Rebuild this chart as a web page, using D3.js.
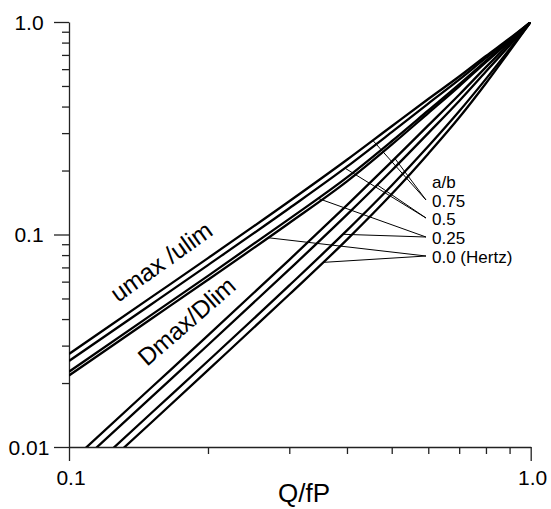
<!DOCTYPE html>
<html>
<head>
<meta charset="utf-8">
<script src="https://cdn.jsdelivr.net/npm/d3@7"></script>
<style>
  body { margin: 0; background: #fff; }
  svg { display: block; font-family: "Liberation Sans", Arial, sans-serif; }
</style>
</head>
<body>
<svg id="chart"></svg>
<script>
var width = 551,
    height = 509,
    margin = {top: 22, right: 20.3, bottom: 62, left: 69};

// Q/fP sample points
var qValues = [0.1, 0.15, 0.2, 0.3, 0.4, 0.5, 0.6, 0.7, 0.8, 0.9, 1.0];
var ratioLabels = ["0.75", "0.5", "0.25", "0.0 (Hertz)"];

// umax/ulim, one list per a/b (0.75, 0.5, 0.25, 0.0)
var uRatio075 = [0.0274, 0.0503, 0.0774, 0.1434, 0.2249, 0.3233, 0.4342, 0.5540, 0.6918, 0.8363, 1.0];
var uRatio050 = [0.0254, 0.0466, 0.0718, 0.1329, 0.2085, 0.3031, 0.4133, 0.5354, 0.6773, 0.8281, 1.0];
var uRatio025 = [0.0226, 0.0415, 0.0639, 0.1184, 0.1856, 0.2747, 0.3833, 0.5082, 0.6556, 0.8157, 1.0];
var uRatio000 = [0.0217, 0.0398, 0.0612, 0.1133, 0.1778, 0.2647, 0.3726, 0.4983, 0.6477, 0.8111, 1.0];

// Dmax/Dlim, one list per a/b
var dRatio075 = [0.00838, 0.01885, 0.0335, 0.0760, 0.1376, 0.2203, 0.3262, 0.4548, 0.6135, 0.7939, 1.0];
var dRatio050 = [0.00755, 0.0170, 0.0302, 0.0685, 0.1240, 0.2000, 0.3000, 0.4250, 0.5850, 0.7750, 1.0];
var dRatio025 = [0.00635, 0.0143, 0.0254, 0.0576, 0.1045, 0.1700, 0.2600, 0.3800, 0.5400, 0.7450, 1.0];
var dRatio000 = [0.00575, 0.0129, 0.0230, 0.0522, 0.0946, 0.1550, 0.2400, 0.3550, 0.5150, 0.7300, 1.0];

// where each leader line touches its curves (Q/fP), u then D
var leaderU = [0.455, 0.396, 0.346, 0.270];
var leaderD = [0.508, 0.465, 0.392, 0.355];

var xTicks = [0.1, 0.2, 0.3, 0.4, 0.5, 0.6, 0.7, 0.8, 0.9, 1.0];
var yTicks = [0.01, 0.02, 0.03, 0.04, 0.05, 0.06, 0.07, 0.08, 0.09,
              0.1, 0.2, 0.3, 0.4, 0.5, 0.6, 0.7, 0.8, 0.9, 1.0];
var xLabels = [[0.1, "0.1"], [1.0, "1.0"]];
var yLabels = [[0.01, "0.01"], [0.1, "0.1"], [1.0, "1.0"]];

var svg = d3.select("#chart").attr("width", width).attr("height", height);

var x = d3.scaleLog().domain([0.1, 1]).range([margin.left, width - margin.right]),
    y = d3.scaleLog().domain([0.01, 1]).range([height - margin.bottom, margin.top]);

var isMajor = function(v) {
    return Math.abs(Math.log10(v) - Math.round(Math.log10(v))) < 1e-6;
};

svg.append("defs").append("clipPath").attr("id", "plot")
    .append("rect")
    .attr("x", margin.left).attr("y", margin.top)
    .attr("width", x(1) - x(0.1)).attr("height", y(0.01) - y(1));

// axes
var xAxis = d3.axisBottom(x)
    .tickValues(xTicks)
    .tickFormat("")
    .tickSizeOuter(0);
var yAxis = d3.axisLeft(y)
    .tickValues(yTicks)
    .tickFormat("")
    .tickSizeOuter(0);

var gx = svg.append("g")
    .attr("transform", "translate(0," + y(0.01) + ")")
    .call(xAxis);
gx.selectAll(".tick line").attr("y2", function(d) { return isMajor(d) ? 14 : 7; });

var gy = svg.append("g")
    .attr("transform", "translate(" + x(0.1) + ",0)")
    .call(yAxis);
gy.selectAll(".tick line").attr("x2", function(d) { return isMajor(d) ? -15 : -7; });

svg.selectAll(".domain, .tick line").attr("stroke", "#222").attr("stroke-width", 1.3);

svg.selectAll(".x-label")
    .data(xLabels)
    .enter().append("text")
    .attr("x", function(d) { return x(d[0]) + 2; })
    .attr("y", y(0.01) + 38)
    .attr("text-anchor", "middle")
    .attr("font-size", 21)
    .text(function(d) { return d[1]; });

svg.selectAll(".y-label")
    .data(yLabels)
    .enter().append("text")
    .attr("x", 29)
    .attr("y", function(d) { return y(d[0]) + 7.5; })
    .attr("text-anchor", "middle")
    .attr("font-size", 21)
    .text(function(d) { return d[1]; });

svg.append("text")
    .attr("x", 304)
    .attr("y", 502)
    .attr("text-anchor", "middle")
    .attr("font-size", 26)
    .text("Q/fP");

// curves
var line = d3.line()
    .x(function(d) { return x(d[0]); })
    .y(function(d) { return y(d[1]); })
    .curve(d3.curveMonotoneX);

var uSeries = [uRatio075, uRatio050, uRatio025, uRatio000],
    dSeries = [dRatio075, dRatio050, dRatio025, dRatio000];

var curves = svg.append("g").attr("clip-path", "url(#plot)");
uSeries.concat(dSeries).forEach(function(s) {
    curves.append("path")
        .datum(qValues.map(function(q, i) { return [q, s[i]]; }))
        .attr("fill", "none")
        .attr("stroke", "#000")
        .attr("stroke-width", 2.3)
        .attr("d", line);
});

// value on a curve at a given Q/fP (log-log linear between samples)
function valueAt(series, q) {
    var i = d3.bisectRight(qValues, q) - 1;
    i = Math.max(0, Math.min(i, qValues.length - 2));
    var t = (Math.log(q) - Math.log(qValues[i])) / (Math.log(qValues[i + 1]) - Math.log(qValues[i]));
    return Math.exp(Math.log(series[i]) + t * (Math.log(series[i + 1]) - Math.log(series[i])));
}

// a/b legend with leader lines
var legendX = 432,
    labelY = [201, 219, 238, 257],
    anchorX = 426;

svg.append("text")
    .attr("x", legendX)
    .attr("y", 188)
    .attr("font-size", 17)
    .text("a/b");

ratioLabels.forEach(function(lbl, i) {
    svg.append("text")
        .attr("x", legendX)
        .attr("y", labelY[i] + 6)
        .attr("font-size", 17)
        .text(lbl);
    [[uSeries[i], leaderU[i]], [dSeries[i], leaderD[i]]].forEach(function(p) {
        svg.append("line")
            .attr("x1", anchorX).attr("y1", labelY[i] - 1)
            .attr("x2", x(p[1])).attr("y2", y(valueAt(p[0], p[1])))
            .attr("stroke", "#000")
            .attr("stroke-width", 1);
    });
});

// family labels along the curves
svg.append("text")
    .attr("transform", "translate(118,303) rotate(-35.5)")
    .attr("font-size", 24.5)
    .text("umax /ulim");

svg.append("text")
    .attr("transform", "translate(147,367) rotate(-41)")
    .attr("font-size", 24.5)
    .text("Dmax/Dlim");
</script>
</body>
</html>
